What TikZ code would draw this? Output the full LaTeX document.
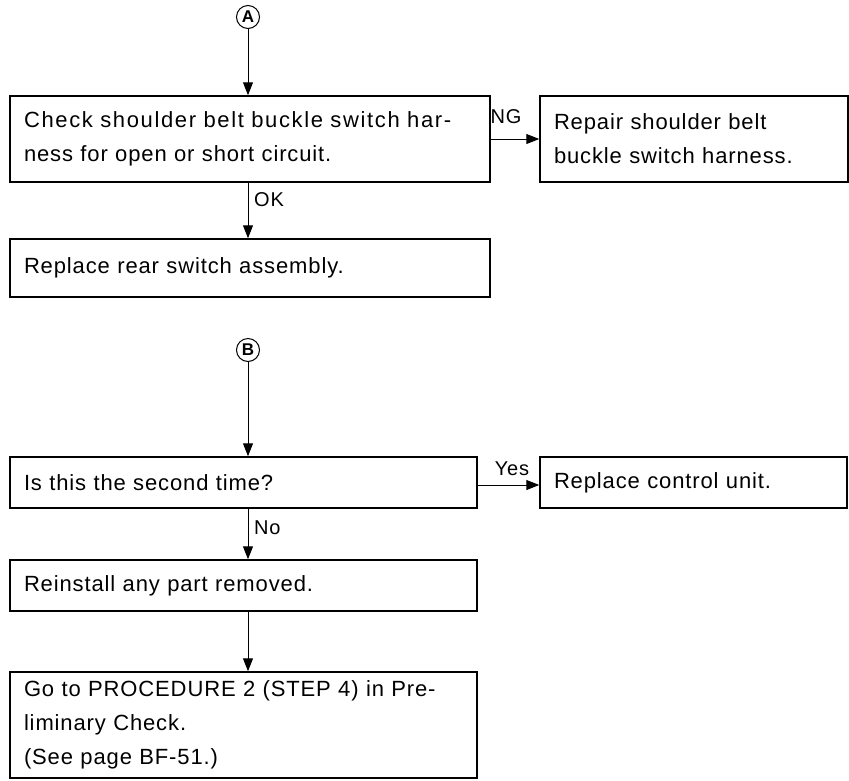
\documentclass[tikz,border=0pt]{standalone}
\usepackage{fontspec}
\setmainfont[LetterSpace=4]{Liberation Sans}
\usetikzlibrary{arrows.meta}
\begin{document}
\begin{tikzpicture}[x=1pt,y=-1pt,
  box/.style={draw, line width=1.5pt, inner xsep=14pt, inner ysep=0pt, align=left,
    font=\fontsize{22}{34}\selectfont},
  conn/.style={draw, line width=1pt, -{Triangle[length=13pt,width=10pt]}},
  marker/.style={draw, circle, line width=1pt, minimum size=23pt, inner sep=0pt,
    font=\fontsize{17}{17}\selectfont\bfseries},
  lbl/.style={font=\fontsize{20}{20}\selectfont, inner sep=0pt}]
\useasboundingbox (0,0) rectangle (849,780);

\node[marker] (A) at (248,17) {A};
\node[box, text width=452pt, minimum height=86pt] (b1) at (250,139)
  {\hbox to 436pt{\addfontfeature{LetterSpace=7.5}Check shoulder belt buckle switch har-}\\ness for open or short circuit.};
\node[box, text width=280pt, minimum height=86pt] (b2) at (694,139)
  {Repair shoulder belt\\buckle switch harness.};
\node[box, text width=452pt, minimum height=58pt] (b3) at (250,268)
  {Replace rear switch assembly.};

\node[marker] (B) at (248,350) {B};
\node[box, text width=439pt, minimum height=51pt] (b4) at (243.5,482.5)
  {Is this the second time?};
\node[box, text width=279pt, minimum height=51pt] (b5) at (693.5,482.5)
  {Replace control unit.};
\node[box, text width=439pt, minimum height=51pt] (b6) at (243.5,585.5)
  {Reinstall any part removed.};
\node[box, text width=439pt, minimum height=106pt] (b7) at (243.5,725)
  {Go to PROCEDURE 2 (STEP 4) in Pre-\\liminary Check.\\(See page BF-51.)};

\draw[conn] (A.south) -- (A.south |- b1.north);
\draw[conn] (b1.east) -- (b2.west);
\node[lbl] (ng) at (506,117) {NG};
\draw[conn] (A.south |- b1.south) -- (A.south |- b3.north);
\node[lbl, anchor=west] (ok) at (254,200) {OK};

\draw[conn] (B.south) -- (B.south |- b4.north);
\coordinate (y1) at (0,485);
\draw[conn] (b4.east |- y1) -- (b5.west |- y1);
\node[lbl] (yes) at (512,469) {Yes};
\draw[conn] (B.south |- b4.south) -- (B.south |- b6.north);
\node[lbl, anchor=west] (no) at (254,528) {No};
\draw[conn] (B.south |- b6.south) -- (B.south |- b7.north);
\end{tikzpicture}
\end{document}
